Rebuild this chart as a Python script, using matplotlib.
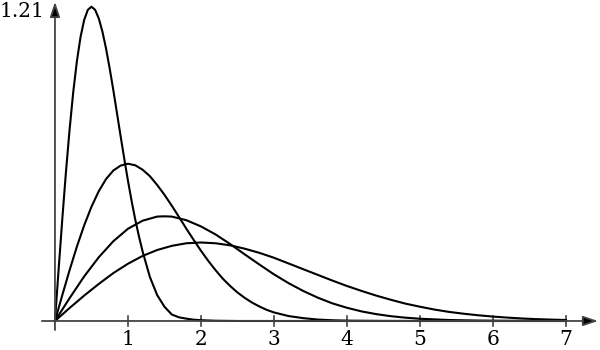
import matplotlib
matplotlib.use("Agg")
import matplotlib.pyplot as plt

plt.rcParams['font.family'] = ['DejaVu Serif']

# Curve 1 (narrowest)
x1 = [0, 0.05, 0.1, 0.15, 0.2, 0.25, 0.3, 0.35, 0.4, 0.45, 0.5, 0.55, 0.6, 0.65,
      0.7, 0.75, 0.8, 0.85, 0.9, 0.95, 1.0, 1.05, 1.1, 1.15, 1.2, 1.3, 1.4,
      1.5, 1.6, 1.7, 1.8, 1.9, 2.0, 2.2, 2.5, 3.0, 4.0, 5.0, 6.0, 7.0]
y1 = [0, 0.199, 0.392, 0.574, 0.738, 0.883, 1.002, 1.096, 1.162, 1.201, 1.213,
      1.201, 1.168, 1.117, 1.051, 0.974, 0.890, 0.801, 0.712, 0.625, 0.541,
      0.463, 0.391, 0.327, 0.269, 0.170, 0.100, 0.055, 0.025, 0.014, 0.009,
      0.005, 0.003, 0.001, 0.0, 0.0, 0.0, 0.0, 0.0, 0.0]

# Curve 2
x2 = [0, 0.1, 0.2, 0.3, 0.4, 0.5, 0.6, 0.7, 0.8, 0.9, 1.0, 1.1, 1.2, 1.3, 1.4,
      1.5, 1.6, 1.7, 1.8, 1.9, 2.0, 2.1, 2.2, 2.3, 2.4, 2.5, 2.6, 2.7, 2.8, 2.9,
      3.0, 3.2, 3.4, 3.6, 3.8, 4.0, 4.5, 5.0, 6.0, 7.0]
y2 = [0, 0.0995, 0.196, 0.287, 0.369, 0.441, 0.501, 0.548, 0.581, 0.600, 0.607,
      0.601, 0.584, 0.559, 0.525, 0.487, 0.445, 0.401, 0.356, 0.313, 0.271,
      0.232, 0.196, 0.163, 0.135, 0.110, 0.089, 0.071, 0.056, 0.043, 0.033,
      0.019, 0.011, 0.0055, 0.0028, 0.0013, 0.0002, 0.0, 0.0, 0.0]

# Curve 3
x3 = [0, 0.2, 0.4, 0.6, 0.8, 1.0, 1.2, 1.4, 1.5, 1.6, 1.8, 2.0, 2.2, 2.4, 2.6,
      2.8, 3.0, 3.2, 3.4, 3.6, 3.8, 4.0, 4.2, 4.4, 4.6, 4.8, 5.0, 5.4, 5.8,
      6.2, 7.0]
y3 = [0, 0.088, 0.172, 0.246, 0.308, 0.356, 0.387, 0.403, 0.404, 0.403, 0.389,
      0.365, 0.334, 0.297, 0.257, 0.218, 0.180, 0.146, 0.116, 0.090, 0.068,
      0.051, 0.037, 0.0265, 0.0185, 0.0128, 0.0086, 0.0037, 0.0015, 0.0005,
      0.0001]

# Curve 4 (widest)
x4 = [0, 0.2, 0.4, 0.6, 0.8, 1.0, 1.2, 1.4, 1.6, 1.8, 2.0, 2.2, 2.4, 2.6, 2.8,
      3.0, 3.2, 3.4, 3.6, 3.8, 4.0, 4.2, 4.4, 4.6, 4.8, 5.0, 5.2, 5.4, 5.6,
      5.8, 6.0, 6.2, 6.4, 6.6, 6.8, 7.0]
y4 = [0, 0.050, 0.098, 0.143, 0.185, 0.221, 0.251, 0.274, 0.290, 0.300, 0.303,
      0.300, 0.292, 0.279, 0.263, 0.244, 0.222, 0.200, 0.178, 0.156, 0.135,
      0.116, 0.098, 0.082, 0.067, 0.055, 0.044, 0.035, 0.028, 0.022, 0.017,
      0.013, 0.0096, 0.0071, 0.0053, 0.0038]

xticks = [1, 2, 3, 4, 5, 6, 7]
ymax_label = "1.21"

fig = plt.figure(figsize=(6, 3.5), dpi=100)
ax = fig.add_axes([0, 0, 1, 1])
ax.set_xlim(-0.753, 7.466)
ax.set_ylim(-0.112, 1.239)
ax.axis('off')

axis_col = '#444444'
arrow = dict(arrowstyle='-|>,head_length=0.9,head_width=0.3',
             lw=1.3, shrinkA=0, shrinkB=0, fc='black', ec=axis_col)
# x axis
ax.annotate('', xy=(7.44, 0), xytext=(-0.18, 0), arrowprops=arrow)
# y axis
ax.annotate('', xy=(0, 1.232), xytext=(0, -0.035), arrowprops=arrow)

for t in xticks:
    ax.plot([t, t], [-0.019, 0.019], color=axis_col, lw=1.2)
    ax.text(t, -0.107, str(t), ha='center', va='bottom', fontsize=14.5)

ax.text(-0.151, 1.174, ymax_label, ha='right', va='baseline', fontsize=14.5)

for xs, ys in [(x1, y1), (x2, y2), (x3, y3), (x4, y4)]:
    ax.plot(xs, ys, color='black', lw=1.5, solid_joinstyle='round')

fig.savefig('out.png', dpi=100)
